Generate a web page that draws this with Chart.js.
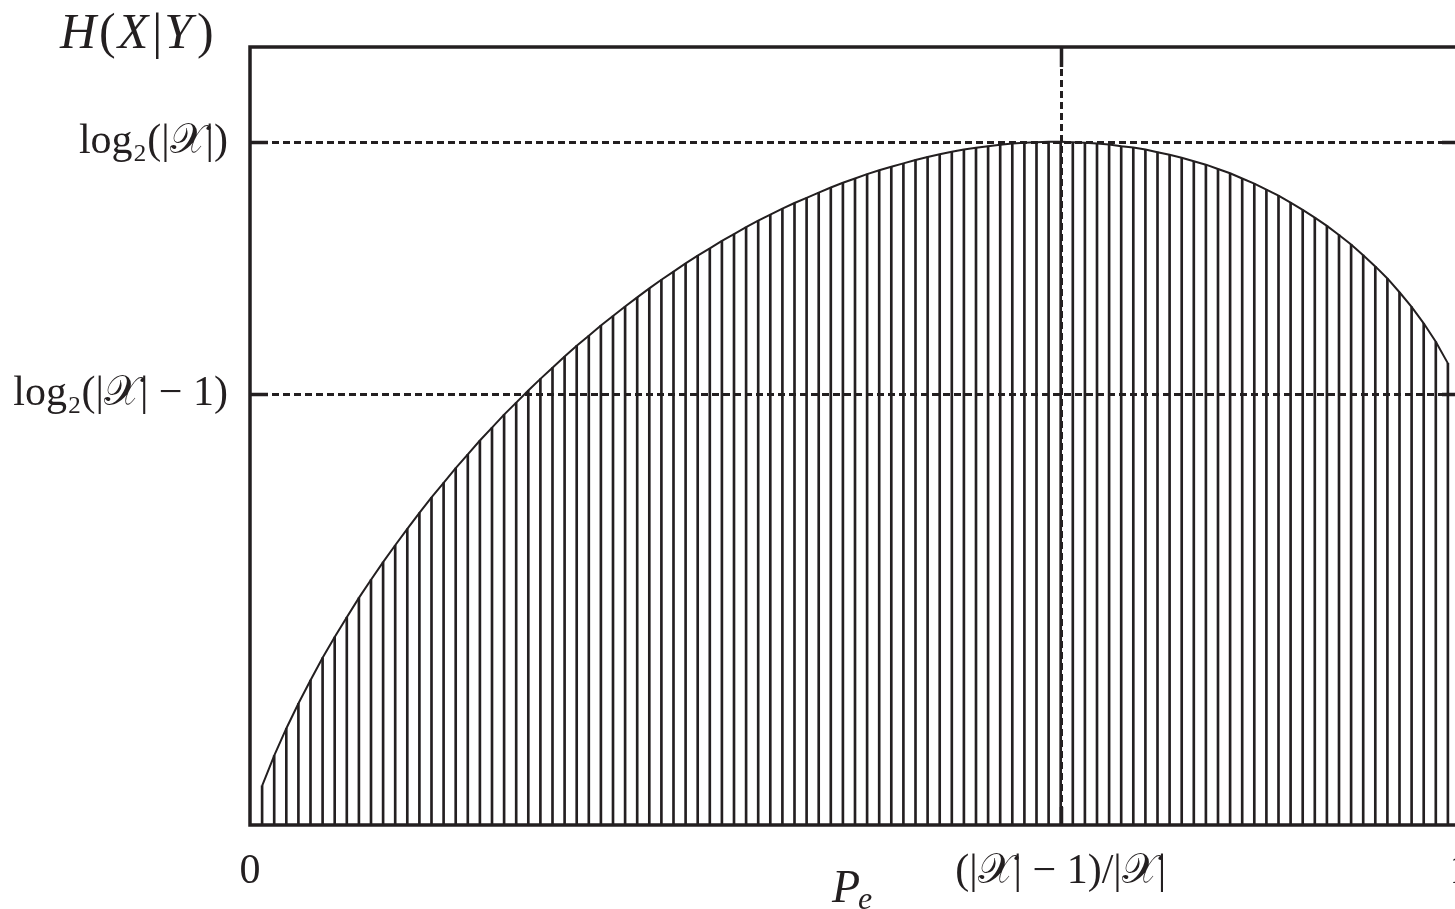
<!DOCTYPE html>
<html lang="en">
<head>
  <meta charset="UTF-8">
  <title>Fano bound H(X|Y)</title>
  <style>
    html, body { margin: 0; padding: 0; background: #fff; overflow: hidden; }
    .wrap { position: relative; width: 1480px; height: 909px; }
  </style>
</head>
<body>
  <div class="wrap"><canvas id="fanoChart" width="1480" height="909"></canvas></div>

  <script src="https://cdn.jsdelivr.net/npm/chart.js"></script>
  <script>
    // error probability P_e at each hatch line
    const pe = [
      0.01, 0.02, 0.03, 0.04, 0.05, 0.06, 0.07, 0.08, 0.09, 0.10,
      0.11, 0.12, 0.13, 0.14, 0.15, 0.16, 0.17, 0.18, 0.19, 0.20,
      0.21, 0.22, 0.23, 0.24, 0.25, 0.26, 0.27, 0.28, 0.29, 0.30,
      0.31, 0.32, 0.33, 0.34, 0.35, 0.36, 0.37, 0.38, 0.39, 0.40,
      0.41, 0.42, 0.43, 0.44, 0.45, 0.46, 0.47, 0.48, 0.49, 0.50,
      0.51, 0.52, 0.53, 0.54, 0.55, 0.56, 0.57, 0.58, 0.59, 0.60,
      0.61, 0.62, 0.63, 0.64, 0.65, 0.66, 0.67, 0.68, 0.69, 0.70,
      0.71, 0.72, 0.73, 0.74, 0.75, 0.76, 0.77, 0.78, 0.79, 0.80,
      0.81, 0.82, 0.83, 0.84, 0.85, 0.86, 0.87, 0.88, 0.89, 0.90,
      0.91, 0.92, 0.93, 0.94, 0.95, 0.96, 0.97, 0.98, 0.99
    ];
    // upper bound on H(X|Y) (bits)
    const hxy = [
      0.091, 0.161, 0.224, 0.282, 0.336, 0.388, 0.436, 0.482, 0.527, 0.569,
      0.610, 0.649, 0.687, 0.724, 0.760, 0.794, 0.828, 0.860, 0.892, 0.922,
      0.952, 0.980, 1.008, 1.035, 1.061, 1.087, 1.112, 1.135, 1.159, 1.181,
      1.203, 1.224, 1.245, 1.265, 1.284, 1.303, 1.321, 1.338, 1.355, 1.371,
      1.387, 1.402, 1.416, 1.430, 1.443, 1.455, 1.467, 1.479, 1.490, 1.500,
      1.510, 1.519, 1.527, 1.535, 1.543, 1.550, 1.556, 1.562, 1.567, 1.571,
      1.575, 1.578, 1.581, 1.583, 1.584, 1.585, 1.585, 1.584, 1.583, 1.581,
      1.579, 1.575, 1.572, 1.567, 1.561, 1.555, 1.548, 1.540, 1.532, 1.522,
      1.512, 1.500, 1.488, 1.474, 1.460, 1.444, 1.427, 1.409, 1.390, 1.369,
      1.347, 1.322, 1.296, 1.268, 1.236, 1.202, 1.164, 1.121, 1.071
    ];
    const yTicks = [1, 1.585];
    const yTickLabels = ['log\u2082(|\u{1D4B3}| \u2212 1)', 'log\u2082(|\u{1D4B3}|)'];
    const xTicks = [0, 0.67, 1];
    const xTickLabels = ['0', '(|\u{1D4B3}| \u2212 1)/|\u{1D4B3}|', '1'];

    const INK = '#231f20';
    const SERIF = '"Liberation Serif", "DejaVu Serif", serif';

    // draws a row of text pieces, some italic, starting at x
    function drawPieces(ctx, pieces, x, y, size) {
      ctx.textBaseline = 'alphabetic';
      ctx.textAlign = 'left';
      pieces.forEach(p => {
        const s = p.size || size;
        ctx.font = (p.italic ? 'italic ' : '') + s + 'px ' + SERIF;
        ctx.fillText(p.t, x, y + (p.dy || 0));
        x += ctx.measureText(p.t).width + (p.kern || 0);
      });
    }

    const framePlugin = {
      id: 'frame',
      afterDatasetsDraw(chart) {
        const { ctx, chartArea: a, scales: { x, y } } = chart;
        ctx.save();
        ctx.strokeStyle = INK;
        ctx.fillStyle = INK;

        // dashed reference lines
        ctx.lineWidth = 3;
        ctx.setLineDash([7, 4]);
        yTicks.forEach(v => {
          const py = Math.round(y.getPixelForValue(v)) + 0.5;
          ctx.beginPath(); ctx.moveTo(a.left, py); ctx.lineTo(a.right, py); ctx.stroke();
        });
        const px = Math.round(x.getPixelForValue(xTicks[1])) + 0.5;
        ctx.beginPath(); ctx.moveTo(px, a.top); ctx.lineTo(px, a.bottom); ctx.stroke();
        ctx.setLineDash([]);

        // inward tick marks
        ctx.lineWidth = 3.5;
        yTicks.forEach(v => {
          const py = Math.round(y.getPixelForValue(v)) + 0.5;
          ctx.beginPath();
          ctx.moveTo(a.left, py); ctx.lineTo(a.left + 18, py);
          ctx.moveTo(a.right - 18, py); ctx.lineTo(a.right, py);
          ctx.stroke();
        });
        ctx.beginPath();
        ctx.moveTo(px, a.top); ctx.lineTo(px, a.top + 20);
        ctx.moveTo(px, a.bottom - 18); ctx.lineTo(px, a.bottom);
        ctx.stroke();

        // frame
        ctx.lineWidth = 3.5;
        ctx.strokeRect(a.left, a.top, a.right - a.left, a.bottom - a.top);

        // axis titles
        drawPieces(ctx, [
          { t: 'H', italic: true, kern: 3 },
          { t: '(', kern: 2 },
          { t: 'X', italic: true, kern: 4 },
          { t: '|', kern: 2 },
          { t: 'Y', italic: true, kern: 5 },
          { t: ')' }
        ], 60, 48, 50);
        drawPieces(ctx, [
          { t: 'P', italic: true, kern: -2 },
          { t: 'e', italic: true, size: 32, dy: 7 }
        ], 832, 902, 46);
        ctx.restore();
      }
    };

    const points = pe.map((p, i) => ({ x: p, y: hxy[i] }));

    const config = {
      type: 'bar',
      data: {
        datasets: [
          {
            type: 'line',
            data: points,
            borderColor: INK,
            borderWidth: 2,
            pointRadius: 0,
            tension: 0,
            order: 0
          },
          {
            type: 'bar',
            data: points,
            backgroundColor: INK,
            barThickness: 2,
            order: 1
          }
        ]
      },
      options: {
        responsive: false,
        animation: false,
        layout: { padding: { left: 0, right: 20, top: 47, bottom: 0 } },
        plugins: { legend: { display: false }, tooltip: { enabled: false } },
        scales: {
          x: {
            type: 'linear',
            min: 0,
            max: 1,
            offset: false,
            grid: { display: false },
            border: { display: false },
            afterBuildTicks: s => { s.ticks = xTicks.map(v => ({ value: v })); },
            afterFit: s => { s.height = 84; s.paddingLeft = 0; s.paddingRight = 0; },
            ticks: {
              autoSkip: false,
              maxRotation: 0,
              padding: 14,
              color: INK,
              font: { family: SERIF, size: 42 },
              callback: (v, i) => xTickLabels[i]
            }
          },
          y: {
            min: 0,
            max: 1.805,
            grid: { display: false },
            border: { display: false },
            afterBuildTicks: s => { s.ticks = yTicks.map(v => ({ value: v })); },
            afterFit: s => { s.width = 250; s.paddingTop = 0; s.paddingBottom = 0; },
            ticks: {
              padding: 14,
              color: INK,
              font: { family: SERIF, size: 42 },
              callback: (v, i) => yTickLabels[i]
            }
          }
        }
      },
      plugins: [framePlugin]
    };

    window.addEventListener('load', () => {
      const ctx = document.getElementById('fanoChart').getContext('2d');
      new Chart(ctx, config);
    });
  </script>
</body>
</html>
